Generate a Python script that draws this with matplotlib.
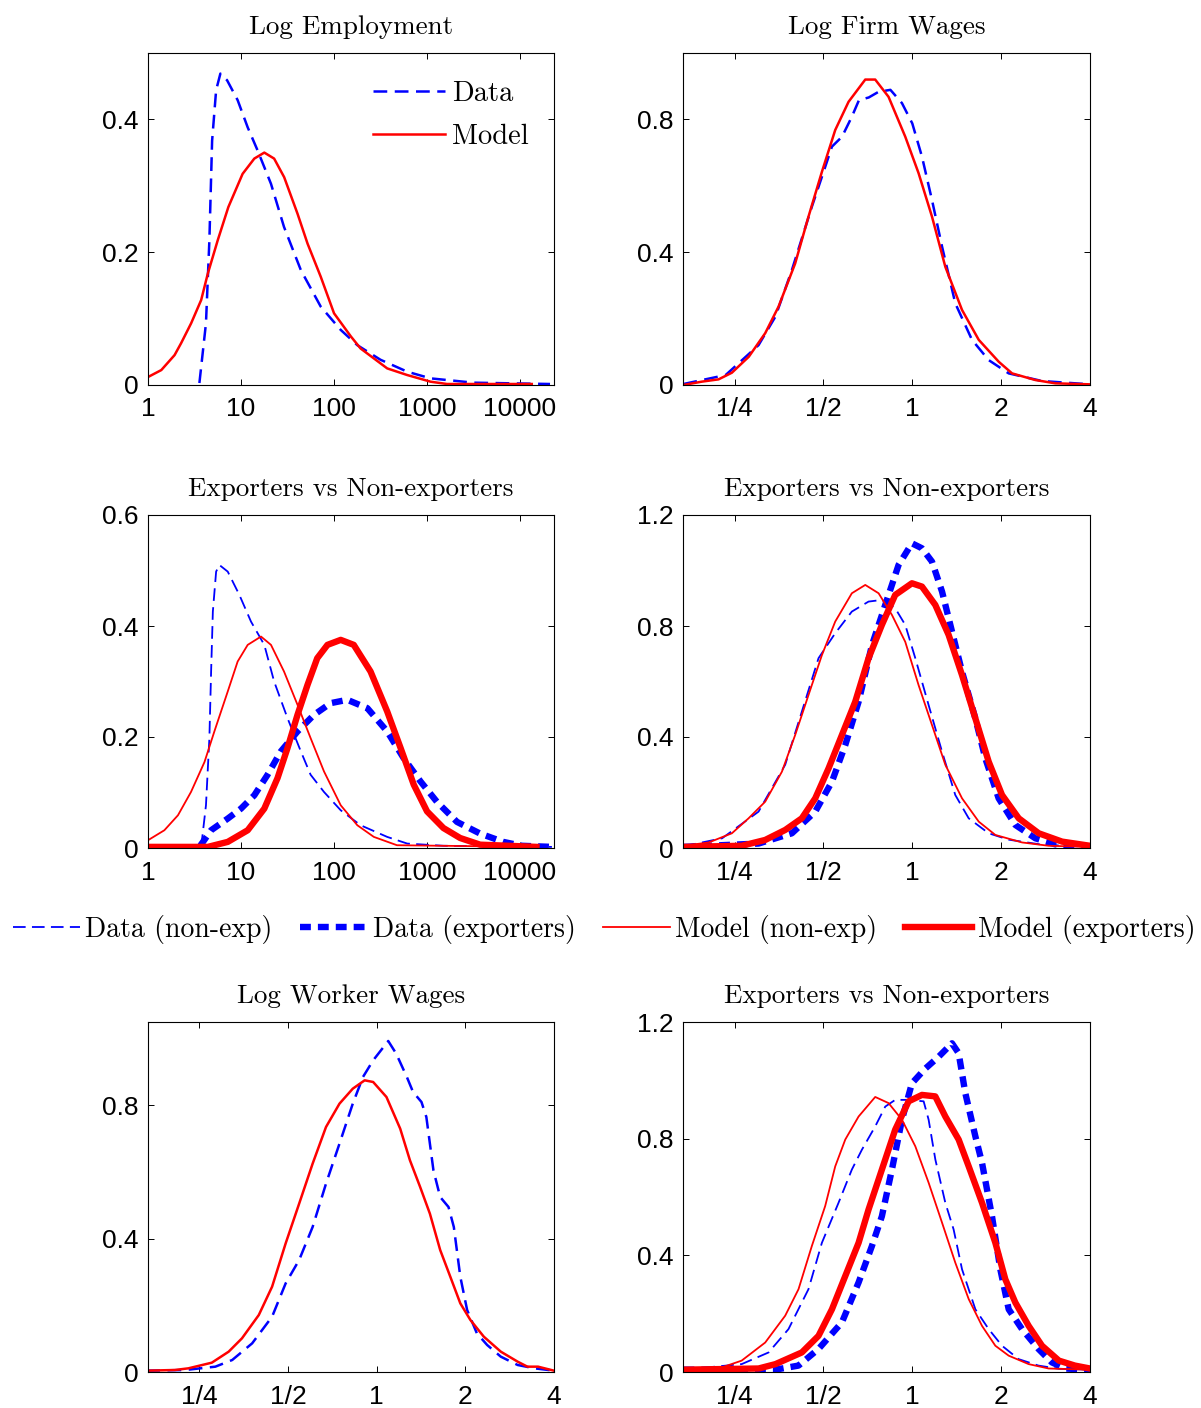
import numpy as np
import matplotlib
matplotlib.use("Agg")
import matplotlib.pyplot as plt
from matplotlib.lines import Line2D
from matplotlib.ticker import FixedLocator, FixedFormatter, NullLocator

plt.rcParams['font.family'] = ['Liberation Sans', 'DejaVu Sans']
plt.rcParams['axes.linewidth'] = 0.8
plt.rcParams['axes.unicode_minus'] = False

SERIF = 'cmr10'

# ---------------- data ----------------
# Panel 1: log employment, x = employment
emp_data_x = [3.57, 4.2, 4.57, 4.89, 5.4, 6.0, 7.08, 9.2, 11.8, 15.1, 21, 29, 44, 72,
              118, 178, 316, 614, 1090, 3160, 21000]
emp_data_y = [0.003, 0.093, 0.218, 0.368, 0.444, 0.469, 0.459, 0.429, 0.388, 0.353, 0.303,
              0.238, 0.173, 0.118, 0.083, 0.060, 0.038, 0.020, 0.010, 0.0035, 0.0015]
emp_model_x = [1.0, 1.39, 1.93, 2.27, 2.91, 3.73, 4.4, 5.62, 7.31, 10.4, 13.9, 17.8,
               22.7, 29.1, 40.5, 51.9, 72, 100, 152, 193, 373, 612, 1090, 1640, 13370]
emp_model_y = [0.012, 0.0225, 0.045, 0.063, 0.093, 0.128, 0.168, 0.218, 0.268, 0.318,
               0.341, 0.350, 0.341, 0.313, 0.258, 0.213, 0.163, 0.108, 0.073, 0.055,
               0.025, 0.015, 0.005, 0.0015, 0.0015]

# Panel 2: log firm wages, x = log2(relative wage)
fw_data_lx = [-2.575, -2.1, -1.73, -1.54, -1.355, -1.13, -1.017, -0.904, -0.79, -0.68, -0.6,
              -0.49, -0.38, -0.246, -0.116, 0.0, 0.109, 0.222, 0.335, 0.484, 0.672, 0.86,
              1.085, 1.46, 2.0]
fw_data_y = [0.003, 0.03, 0.12, 0.206, 0.346, 0.537, 0.627, 0.718, 0.748, 0.808, 0.858,
             0.866, 0.883, 0.889, 0.849, 0.788, 0.688, 0.557, 0.417, 0.246, 0.136, 0.075,
             0.035, 0.012, 0.002]
fw_model_lx = [-2.575, -2.37, -2.18, -2.03, -1.84, -1.655, -1.505, -1.318, -1.168, -1.017,
               -0.867, -0.717, -0.529, -0.417, -0.267, -0.079, 0.071, 0.222, 0.372, 0.56,
               0.748, 0.973, 1.123, 1.385, 1.61, 2.0]
fw_model_y = [0.0, 0.01, 0.017, 0.037, 0.085, 0.156, 0.236, 0.366, 0.507, 0.642, 0.768,
              0.853, 0.92, 0.92, 0.868, 0.748, 0.638, 0.507, 0.356, 0.226, 0.136, 0.07,
              0.035, 0.015, 0.005, 0.002]

# Panel 3: employment, exporters vs non-exporters
ex_emp_dn_x = [3.73, 4.2, 4.57, 4.77, 4.98, 5.4, 5.85, 7.2, 9.6, 12.8, 17.8, 22.7, 31.6, 44,
               56, 78, 118, 193, 373, 612, 1500, 22000]
ex_emp_dn_y = [0.002, 0.077, 0.198, 0.318, 0.426, 0.498, 0.51, 0.498, 0.456, 0.408, 0.366,
               0.30, 0.234, 0.174, 0.132, 0.101, 0.068, 0.041, 0.02, 0.008, 0.004, 0.002]
ex_emp_de_x = [1.0, 3.5, 3.9, 4.77, 7.2, 10, 13.9, 19.3, 26.8, 40.5, 61, 92, 139, 228, 373,
               560, 850, 1280, 2100, 3720, 6600, 10500, 22000]
ex_emp_de_y = [0.0, 0.0, 0.011, 0.032, 0.053, 0.071, 0.095, 0.132, 0.174, 0.21, 0.24, 0.261,
               0.267, 0.252, 0.21, 0.162, 0.12, 0.083, 0.047, 0.026, 0.011, 0.004, 0.002]
ex_emp_mn_x = [1.0, 1.5, 2.1, 2.9, 4.05, 5.17, 6.1, 7.2, 9.2, 11.8, 16.4, 21, 29, 40.5, 56,
               78, 118, 178, 268, 475, 14000]
ex_emp_mn_y = [0.014, 0.032, 0.059, 0.101, 0.155, 0.21, 0.246, 0.282, 0.336, 0.366, 0.381,
               0.366, 0.318, 0.258, 0.198, 0.138, 0.077, 0.041, 0.02, 0.005, 0.002]
ex_emp_me_x = [1.0, 4.4, 7.2, 11.8, 17.8, 24.7, 31.6, 40.5, 51.9, 66, 85, 118, 163, 247, 373,
               520, 720, 1000, 1500, 2270, 3720, 15000]
ex_emp_me_y = [0.002, 0.002, 0.011, 0.032, 0.071, 0.126, 0.18, 0.24, 0.294, 0.342, 0.366,
               0.375, 0.366, 0.318, 0.246, 0.18, 0.114, 0.066, 0.036, 0.018, 0.006, 0.002]

# Panel 4: firm wages, exporters vs non-exporters (log2 relative wage)
ex_fw_dn_lx = [-2.575, -2.14, -1.73, -1.43, -1.243, -1.055, -0.867, -0.68, -0.492, -0.342,
               -0.192, -0.079, 0.034, 0.184, 0.335, 0.484, 0.635, 0.86, 1.085, 1.46, 2.0]
ex_fw_dn_y = [0.006, 0.035, 0.131, 0.30, 0.491, 0.684, 0.774, 0.852, 0.888, 0.894, 0.864,
              0.804, 0.684, 0.515, 0.347, 0.191, 0.107, 0.053, 0.03, 0.012, 0.004]
ex_fw_de_lx = [-2.575, -1.73, -1.355, -1.092, -0.904, -0.754, -0.604, -0.454, -0.304, -0.154,
               -0.004, 0.109, 0.222, 0.335, 0.447, 0.56, 0.71, 0.822, 0.972, 1.16, 1.385,
               1.61, 2.0]
ex_fw_de_y = [0.004, 0.016, 0.053, 0.131, 0.239, 0.371, 0.527, 0.731, 0.876, 1.02, 1.098,
              1.08, 1.032, 0.924, 0.78, 0.635, 0.467, 0.323, 0.179, 0.083, 0.035, 0.013, 0.004]
ex_fw_mn_lx = [-2.575, -2.29, -2.03, -1.842, -1.655, -1.467, -1.318, -1.168, -1.017, -0.867,
               -0.68, -0.529, -0.379, -0.229, -0.079, 0.071, 0.222, 0.372, 0.56, 0.748, 0.935,
               1.236, 1.535, 2.0]
ex_fw_mn_y = [0.008, 0.02, 0.053, 0.107, 0.167, 0.275, 0.407, 0.551, 0.695, 0.816, 0.918,
              0.948, 0.918, 0.84, 0.743, 0.587, 0.443, 0.30, 0.179, 0.095, 0.047, 0.02, 0.008,
              0.004]
ex_fw_me_lx = [-2.575, -1.92, -1.655, -1.43, -1.243, -1.092, -0.942, -0.792, -0.642, -0.492,
               -0.342, -0.192, -0.004, 0.109, 0.259, 0.409, 0.56, 0.71, 0.86, 1.01, 1.198,
               1.423, 1.686, 2.0]
ex_fw_me_y = [0.004, 0.008, 0.029, 0.065, 0.107, 0.179, 0.287, 0.407, 0.527, 0.684, 0.804,
              0.912, 0.954, 0.942, 0.876, 0.768, 0.623, 0.467, 0.311, 0.191, 0.107, 0.053,
              0.023, 0.008]

# Panel 5: log worker wages (log2 relative wage)
ww_data_lx = [-2.6, -2.16, -1.82, -1.63, -1.405, -1.18, -1.027, -0.875, -0.723, -0.572, -0.42,
              -0.27, -0.155, -0.04, 0.13, 0.22, 0.34, 0.41, 0.505, 0.56, 0.64, 0.716, 0.81,
              0.87, 0.943, 1.02, 1.13, 1.246, 1.4, 1.59, 1.78, 2.0]
ww_data_y = [0.004, 0.006, 0.016, 0.036, 0.086, 0.166, 0.266, 0.336, 0.435, 0.565, 0.685,
             0.805, 0.885, 0.935, 0.993, 0.955, 0.885, 0.84, 0.81, 0.765, 0.605, 0.525, 0.495,
             0.435, 0.286, 0.186, 0.116, 0.081, 0.046, 0.021, 0.011, 0.004]
ww_model_lx = [-2.6, -2.277, -2.125, -1.86, -1.67, -1.52, -1.33, -1.18, -1.027, -0.875, -0.723,
               -0.572, -0.42, -0.27, -0.136, -0.04, 0.11, 0.265, 0.375, 0.49, 0.6, 0.716, 0.83,
               0.943, 1.057, 1.208, 1.4, 1.59, 1.7, 1.82, 2.0]
ww_model_y = [0.004, 0.006, 0.011, 0.028, 0.061, 0.101, 0.171, 0.256, 0.386, 0.505, 0.625,
              0.735, 0.805, 0.85, 0.875, 0.87, 0.825, 0.73, 0.635, 0.555, 0.475, 0.366, 0.286,
              0.206, 0.156, 0.106, 0.061, 0.031, 0.016, 0.016, 0.004]

# Panel 6: worker wages, exporters vs non-exporters (log2 relative wage)
ex_ww_dn_lx = [-2.575, -1.92, -1.617, -1.393, -1.168, -1.017, -0.83, -0.68, -0.567, -0.417,
               -0.304, -0.192, -0.041, 0.128, 0.184, 0.26, 0.372, 0.465, 0.56, 0.71, 0.86,
               1.01, 1.198, 1.42, 1.65, 2.0]
ex_ww_dn_y = [0.008, 0.027, 0.067, 0.147, 0.284, 0.443, 0.58, 0.694, 0.762, 0.842, 0.91,
              0.933, 0.933, 0.928, 0.865, 0.728, 0.58, 0.489, 0.352, 0.215, 0.147, 0.09, 0.044,
              0.022, 0.011, 0.008]
ex_ww_de_lx = [-2.575, -1.54, -1.28, -1.055, -0.792, -0.604, -0.454, -0.342, -0.229, -0.116,
               -0.004, 0.146, 0.297, 0.447, 0.522, 0.597, 0.71, 0.785, 0.897, 0.991, 1.085,
               1.235, 1.42, 1.57, 1.72, 2.0]
ex_ww_de_y = [0.008, 0.008, 0.022, 0.079, 0.17, 0.307, 0.432, 0.534, 0.694, 0.865, 0.99, 1.04,
              1.081, 1.127, 1.093, 0.956, 0.808, 0.717, 0.534, 0.352, 0.215, 0.147, 0.079,
              0.033, 0.012, 0.008]
ex_ww_mn_lx = [-2.575, -2.14, -1.92, -1.655, -1.43, -1.28, -1.13, -0.98, -0.867, -0.754,
               -0.604, -0.417, -0.267, -0.116, 0.034, 0.184, 0.335, 0.484, 0.635, 0.785, 0.935,
               1.085, 1.31, 1.535, 2.0]
ex_ww_mn_y = [0.008, 0.016, 0.039, 0.101, 0.193, 0.284, 0.432, 0.569, 0.705, 0.797, 0.876,
              0.943, 0.922, 0.865, 0.774, 0.649, 0.512, 0.375, 0.25, 0.158, 0.09, 0.056, 0.027,
              0.012, 0.008]
ex_ww_me_lx = [-2.575, -1.73, -1.54, -1.243, -1.055, -0.904, -0.754, -0.604, -0.492, -0.342,
               -0.192, -0.041, 0.109, 0.259, 0.372, 0.522, 0.635, 0.785, 0.935, 1.047, 1.16,
               1.31, 1.46, 1.65, 1.83, 2.0]
ex_ww_me_y = [0.008, 0.012, 0.027, 0.067, 0.124, 0.215, 0.329, 0.443, 0.557, 0.694, 0.831,
              0.928, 0.95, 0.945, 0.876, 0.797, 0.705, 0.58, 0.443, 0.318, 0.238, 0.158, 0.09,
              0.039, 0.022, 0.012]

titles = ['Log Employment', 'Log Firm Wages', 'Exporters vs Non-exporters',
          'Exporters vs Non-exporters', 'Log Worker Wages', 'Exporters vs Non-exporters']
emp_ticks = [1, 10, 100, 1000, 10000]
emp_ticklabels = ['1', '10', '100', '1000', '10000']
wage_ticks = [0.25, 0.5, 1, 2, 4]
wage_ticklabels = ['1/4', '1/2', '1', '2', '4']
legend_labels = ['Data (non-exp)', 'Data (exporters)', 'Model (non-exp)', 'Model (exporters)']

# ---------------- styles ----------------
BLUE = '#0000ff'
RED = '#ff0000'
single_data = dict(color=BLUE, lw=1.8, ls=(0, (5.5, 3)))
single_model = dict(color=RED, lw=1.8)
thin_data = dict(color=BLUE, lw=1.3, ls=(0, (7, 3.5)))
thick_data = dict(color=BLUE, lw=4.6, ls=(0, (1.7, 1.1)))
thin_model = dict(color=RED, lw=1.3)
thick_model = dict(color=RED, lw=4.6)

W, H = 1201, 1408
fig = plt.figure(figsize=(W / 100, H / 100), dpi=100)


def box(left, top, right, bottom):
    return [left / W, 1 - bottom / H, (right - left) / W, (bottom - top) / H]


def style_axes(ax, title, yticks, ylim, kind):
    if kind == 'emp':
        ax.set_xscale('log')
        ax.set_xlim(1, 10 ** 4.365)
        ticks, labels = emp_ticks, emp_ticklabels
    else:
        ax.set_xscale('log', base=2)
        ax.set_xlim(2 ** -2.58, 4)
        ticks, labels = wage_ticks, wage_ticklabels
    ax.xaxis.set_major_locator(FixedLocator(ticks))
    ax.xaxis.set_major_formatter(FixedFormatter(labels))
    ax.xaxis.set_minor_locator(NullLocator())
    ax.set_ylim(*ylim)
    ax.set_yticks(yticks)
    ax.set_yticklabels(['0' if v == 0 else f'{v:g}' for v in yticks])
    ax.tick_params(direction='in', top=True, right=True, length=4, width=0.7,
                   labelsize=19, pad=7)
    ax.tick_params(axis='x', pad=9)
    ax.set_title(title, family=SERIF, fontsize=19.5, pad=14)


def lx(vals):
    return np.exp2(np.asarray(vals))


# Row 1
ax1 = fig.add_axes(box(148, 53, 554, 385))
ax1.plot(emp_data_x, emp_data_y, label='Data', **single_data)
ax1.plot(emp_model_x, emp_model_y, label='Model', **single_model)
style_axes(ax1, titles[0], [0, 0.2, 0.4], (0, 0.5), 'emp')
ax1.legend(loc='upper right', frameon=False, prop=dict(family=SERIF, size=20.5),
           handlelength=2.5, handletextpad=0.25, labelspacing=0.6,
           bbox_to_anchor=(1.0, 0.995))

ax2 = fig.add_axes(box(683, 53, 1090, 385))
ax2.plot(lx(fw_data_lx), fw_data_y, **single_data)
ax2.plot(lx(fw_model_lx), fw_model_y, **single_model)
style_axes(ax2, titles[1], [0, 0.4, 0.8], (0, 1.0), 'wage')

# Row 2
ax3 = fig.add_axes(box(148, 515, 554, 848))
ax3.plot(ex_emp_dn_x, ex_emp_dn_y, **thin_data)
ax3.plot(ex_emp_de_x, ex_emp_de_y, **thick_data)
ax3.plot(ex_emp_mn_x, ex_emp_mn_y, **thin_model)
ax3.plot(ex_emp_me_x, ex_emp_me_y, **thick_model)
style_axes(ax3, titles[2], [0, 0.2, 0.4, 0.6], (0, 0.6), 'emp')

ax4 = fig.add_axes(box(683, 515, 1090, 848))
ax4.plot(lx(ex_fw_dn_lx), ex_fw_dn_y, **thin_data)
ax4.plot(lx(ex_fw_de_lx), ex_fw_de_y, **thick_data)
ax4.plot(lx(ex_fw_mn_lx), ex_fw_mn_y, **thin_model)
ax4.plot(lx(ex_fw_me_lx), ex_fw_me_y, **thick_model)
style_axes(ax4, titles[3], [0, 0.4, 0.8, 1.2], (0, 1.2), 'wage')

# Row 3
ax5 = fig.add_axes(box(148, 1022, 554, 1372))
ax5.plot(lx(ww_data_lx), ww_data_y, **single_data)
ax5.plot(lx(ww_model_lx), ww_model_y, **single_model)
style_axes(ax5, titles[4], [0, 0.4, 0.8], (0, 1.05), 'wage')

ax6 = fig.add_axes(box(683, 1022, 1090, 1372))
ax6.plot(lx(ex_ww_dn_lx), ex_ww_dn_y, **thin_data)
ax6.plot(lx(ex_ww_de_lx), ex_ww_de_y, **thick_data)
ax6.plot(lx(ex_ww_mn_lx), ex_ww_mn_y, **thin_model)
ax6.plot(lx(ex_ww_me_lx), ex_ww_me_y, **thick_model)
style_axes(ax6, titles[5], [0, 0.4, 0.8, 1.2], (0, 1.2), 'wage')

# shared legend between rows 2 and 3
handles = [Line2D([], [], **thin_data), Line2D([], [], **thick_data),
           Line2D([], [], **thin_model), Line2D([], [], **thick_model)]
fig.legend(handles, legend_labels, loc='center', ncol=4, frameon=False,
           bbox_to_anchor=(0.503, 1 - 929 / H), prop=dict(family=SERIF, size=20.0),
           handlelength=2.4, handletextpad=0.2, columnspacing=1.0)

fig.savefig('out.png', dpi=100)
